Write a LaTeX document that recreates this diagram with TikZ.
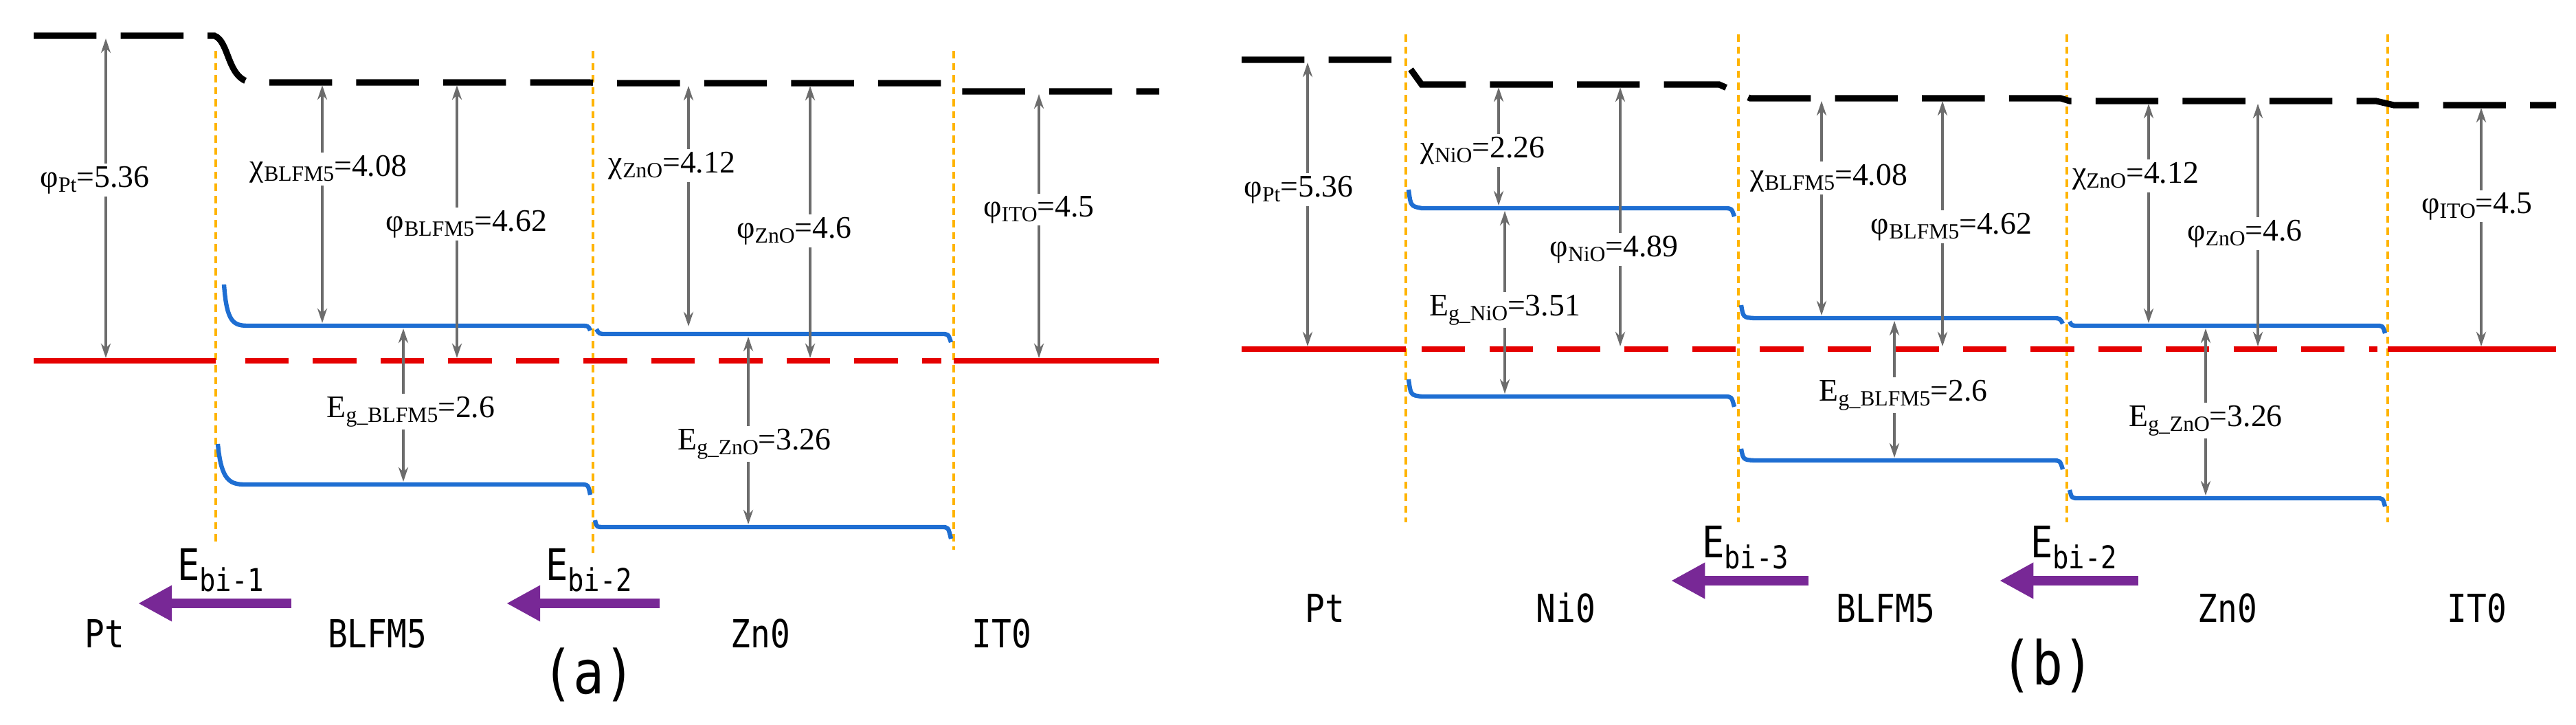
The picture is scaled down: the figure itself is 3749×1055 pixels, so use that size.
\documentclass[tikz,border=0pt]{standalone}
\usepackage{fontspec}
\setmainfont{Liberation Serif}
\newfontfamily\monof[FakeStretch=0.85]{DejaVu Sans Mono}
\usetikzlibrary{arrows.meta}
\newcommand{\lsub}[1]{\raisebox{-0.35ex}{\fontsize{9}{9}\selectfont #1}}
\newcommand{\ebi}[1]{E\raisebox{-0.45ex}{\fontsize{13}{13}\selectfont #1}}
\begin{document}
\begin{tikzpicture}[x=0.01cm,y=-0.01cm,
 vac/.style={line width=2.6pt,dash pattern=on 26pt off 10pt},
 fer/.style={red!90!black,line width=2.4pt},
 ferd/.style={fer,dash pattern=on 18pt off 10pt},
 band/.style={color={rgb,255:red,30;green,110;blue,210},line width=1.8pt},
 intf/.style={color={rgb,255:red,255;green,180;blue,0},line width=0.9pt,dash pattern=on 3pt off 2pt},
 gar/.style={gray!85!black,line width=1pt,{Stealth[length=6pt,width=4pt]}-{Stealth[length=6pt,width=4pt]}},
 val/.style={fill=white,inner sep=1pt,font=\fontsize{13}{13}\selectfont},
 mat/.style={font=\monof\fontsize{16}{16}\selectfont},
 ebl/.style={font=\monof\fontsize{18}{18}\selectfont},
 pur/.style={color={rgb,255:red,120;green,40;blue,150},line width=4.2pt,-{Triangle[length=14pt,width=14pt]}},
 capl/.style={font=\monof\fontsize{25}{25}\selectfont}]
\useasboundingbox (0,0) rectangle (3749,1055);
% ===== panel (a) =====
\draw[intf] (314,74) -- (314,794);
\draw[intf] (863,74) -- (863,808);
\draw[intf] (1388,74) -- (1388,800);
\draw[vac] (49,52) -- (312,52) .. controls (335,60) and (330,120) .. (370,120) -- (853,120) .. controls (860,120) .. (870,121) -- (1370,121) .. controls (1380,121) .. (1392,133) -- (1687,133);
\draw[fer] (49,525) -- (314,525);
\draw[ferd] (357,525) -- (1370,525);
\draw[fer] (1388,525) -- (1687,525);
\draw[band] (326,414) .. controls (330,470) and (340,474) .. (362,474) -- (844,474) .. controls (856,474) .. (859,481);
\draw[band] (868,479) .. controls (872,486) .. (882,486) -- (1370,486) .. controls (1380,486) .. (1384,498);
\draw[band] (317,646) .. controls (322,700) and (335,705) .. (357,705) -- (844,705) .. controls (856,705) .. (859,720);
\draw[band] (866,757) .. controls (868,767) .. (880,767) -- (1370,767) .. controls (1380,767) .. (1384,784);
\draw[gar] (154,56) -- (154,521);
\node[val] (phiPt) at (138,262) {φ\lsub{Pt}=5.36};
\draw[gar] (469,124) -- (469,470);
\node[val] (chiB) at (478,246) {χ\lsub{BLFM5}=4.08};
\draw[gar] (665,124) -- (665,521);
\node[val] (phiB) at (679,326) {φ\lsub{BLFM5}=4.62};
\draw[gar] (587,478) -- (587,701);
\node[val] (egB) at (598,599) {E\lsub{g\_BLFM5}=2.6};
\draw[gar] (1002,125) -- (1002,475);
\node[val] (chiZ) at (978,241) {χ\lsub{ZnO}=4.12};
\draw[gar] (1179,125) -- (1179,521);
\node[val] (phiZ) at (1156,336) {φ\lsub{ZnO}=4.6};
\draw[gar] (1089,490) -- (1089,763);
\node[val] (egZ) at (1098,646) {E\lsub{g\_ZnO}=3.26};
\draw[gar] (1512,137) -- (1512,521);
\node[val] (phiI) at (1512,305) {φ\lsub{ITO}=4.5};
\coordinate (p1s) at (424,878); \coordinate (p1e) at (201,878);
\draw[pur] (p1s) -- (p1e);
\node[ebl] (e1) at (321,830) {\ebi{bi-1}};
\coordinate (p2s) at (960,878); \coordinate (p2e) at (737,878);
\draw[pur] (p2s) -- (p2e);
\node[ebl] (e2) at (857,830) {\ebi{bi-2}};
\node[mat] (mPt) at (152,922) {Pt};
\node[mat] (mB) at (549,922) {BLFM5};
\node[mat] (mZ) at (1107,922) {Zn0};
\node[mat] (mI) at (1458,922) {IT0};
\node[capl] (ca) at (857,982) {(a)};
% ===== panel (b) =====
\draw[intf] (2046,50) -- (2046,760);
\draw[intf] (2530,50) -- (2530,760);
\draw[intf] (3008,50) -- (3008,760);
\draw[intf] (3475,50) -- (3475,760);
\draw[vac] (1807,87) -- (2043,87) -- (2069,123) -- (2502,123) -- (2547,143) -- (2999,143) -- (3012,147) -- (3458,147) -- (3484,153) -- (3720,153);
\draw[fer] (1807,508) -- (2046,508);
\draw[ferd] (2069,508) -- (3460,508);
\draw[fer] (3475,508) -- (3720,508);
\draw[band] (2050,276) .. controls (2053,300) .. (2069,303) -- (2509,303) .. controls (2520,303) .. (2524,315);
\draw[band] (2050,552) .. controls (2053,575) .. (2069,577) -- (2509,577) .. controls (2520,577) .. (2524,592);
\draw[band] (2534,444) .. controls (2537,462) .. (2553,463) -- (2987,463) .. controls (2998,463) .. (3002,471);
\draw[band] (2534,653) .. controls (2537,669) .. (2553,670) -- (2987,670) .. controls (2998,670) .. (3002,683);
\draw[band] (3012,468) .. controls (3015,474) .. (3025,474) -- (3458,474) .. controls (3468,474) .. (3471,485);
\draw[band] (3012,713) .. controls (3015,725) .. (3025,725) -- (3458,725) .. controls (3468,725) .. (3471,737);
\draw[gar] (1903,91) -- (1903,504);
\node[val] (bphiPt) at (1890,276) {φ\lsub{Pt}=5.36};
\draw[gar] (2181,127) -- (2181,299);
\node[val] (bchiN) at (2158,219) {χ\lsub{NiO}=2.26};
\draw[gar] (2358,127) -- (2358,504);
\node[val] (bphiN) at (2349,363) {φ\lsub{NiO}=4.89};
\draw[gar] (2190,307) -- (2190,573);
\node[val] (begN) at (2190,451) {E\lsub{g\_NiO}=3.51};
\draw[gar] (2651,147) -- (2651,459);
\node[val] (bchiB) at (2662,259) {χ\lsub{BLFM5}=4.08};
\draw[gar] (2827,147) -- (2827,504);
\node[val] (bphiB) at (2840,330) {φ\lsub{BLFM5}=4.62};
\draw[gar] (2757,467) -- (2757,666);
\node[val] (begB) at (2770,575) {E\lsub{g\_BLFM5}=2.6};
\draw[gar] (3127,151) -- (3127,470);
\node[val] (bchiZ) at (3108,256) {χ\lsub{ZnO}=4.12};
\draw[gar] (3286,151) -- (3286,504);
\node[val] (bphiZ) at (3267,340) {φ\lsub{ZnO}=4.6};
\draw[gar] (3210,478) -- (3210,721);
\node[val] (begZ) at (3210,612) {E\lsub{g\_ZnO}=3.26};
\draw[gar] (3611,157) -- (3611,504);
\node[val] (bphiI) at (3605,300) {φ\lsub{ITO}=4.5};
\coordinate (p3s) at (2632,845); \coordinate (p3e) at (2432,845);
\draw[pur] (p3s) -- (p3e);
\node[ebl] (e3) at (2540,797) {\ebi{bi-3}};
\coordinate (p4s) at (3112,845); \coordinate (p4e) at (2910,845);
\draw[pur] (p4s) -- (p4e);
\node[ebl] (e4) at (3018,797) {\ebi{bi-2}};
\node[mat] (bPt) at (1928,885) {Pt};
\node[mat] (bN) at (2279,885) {Ni0};
\node[mat] (bB) at (2744,885) {BLFM5};
\node[mat] (bZ) at (3242,885) {Zn0};
\node[mat] (bI) at (3605,885) {IT0};
\node[capl] (cb) at (2980,969) {(b)};
\end{tikzpicture}
\end{document}
